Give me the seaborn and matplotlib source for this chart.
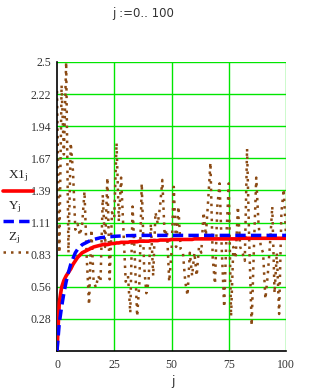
import matplotlib
matplotlib.use("Agg")
import matplotlib.pyplot as plt
import seaborn as sns
import numpy as np
import pandas as pd
from matplotlib.lines import Line2D

sns.set_theme(style="white")
plt.rcParams['font.family'] = ['Liberation Serif', 'DejaVu Serif']
plt.rcParams['mathtext.fontset'] = 'custom'
plt.rcParams['mathtext.rm'] = 'Liberation Serif'
plt.rcParams['mathtext.it'] = 'Liberation Serif'

j = list(range(101))

x1_vals = [0.00, 0.42, 0.55, 0.61, 0.65, 0.68, 0.71, 0.75, 0.78, 0.81,
           0.83, 0.85, 0.86, 0.87, 0.88, 0.89, 0.90, 0.905, 0.91, 0.915,
           0.92, 0.925, 0.92, 0.925, 0.93, 0.93, 0.935, 0.935, 0.94, 0.94,
           0.94, 0.94, 0.945, 0.945, 0.945, 0.945, 0.95, 0.95, 0.95, 0.95,
           0.95, 0.955, 0.955, 0.955, 0.955, 0.96, 0.96, 0.96, 0.96, 0.96,
           0.965, 0.965, 0.965, 0.965, 0.965, 0.965, 0.965, 0.965, 0.965, 0.965,
           0.97, 0.97, 0.97, 0.97, 0.97, 0.97, 0.97, 0.97, 0.97, 0.97,
           0.97, 0.97, 0.97, 0.97, 0.97, 0.97, 0.97, 0.97, 0.97, 0.97,
           0.975, 0.975, 0.975, 0.975, 0.975, 0.975, 0.975, 0.975, 0.975, 0.975,
           0.975, 0.975, 0.975, 0.975, 0.975, 0.975, 0.975, 0.975, 0.975, 0.975,
           0.975]

y_vals = [0.00, 0.24, 0.38, 0.50, 0.60, 0.68, 0.75, 0.80, 0.85, 0.88,
          0.90, 0.92, 0.93, 0.94, 0.95, 0.96, 0.965, 0.97, 0.975, 0.98,
          0.982, 0.985, 0.987, 0.989, 0.99, 0.992, 0.993, 0.994, 0.995, 0.996,
          0.997, 0.998, 0.998, 0.999, 0.999, 1.0, 1.0, 1.0, 1.0, 1.0,
          1.0, 1.0, 1.0, 1.0, 1.0, 1.0, 1.0, 1.0, 1.0, 1.0,
          1.0, 1.0, 1.0, 1.0, 1.0, 1.0, 1.0, 1.0, 1.0, 1.0,
          1.0, 1.0, 1.0, 1.0, 1.0, 1.0, 1.0, 1.0, 1.0, 1.0,
          1.0, 1.0, 1.0, 1.0, 1.0, 1.0, 1.0, 1.0, 1.0, 1.0,
          1.0, 1.0, 1.0, 1.0, 1.0, 1.0, 1.0, 1.0, 1.0, 1.0,
          1.0, 1.0, 1.0, 1.0, 1.0, 1.0, 1.0, 1.0, 1.0, 1.0,
          1.0]

z_vals = [2.25, 0.85, 2.30, 1.70, 2.50, 0.85, 1.80, 1.55, 1.05, 1.10,
          1.00, 1.10, 1.38, 0.80, 0.40, 1.05, 0.60, 0.55, 0.65, 0.60,
          1.35, 0.90, 1.50, 0.62, 1.20, 1.15, 1.80, 1.12, 1.50, 1.05,
          0.60, 0.65, 0.33, 1.25, 0.80, 0.30, 0.60, 1.45, 0.75, 0.50,
          0.60, 1.10, 0.65, 1.20, 1.10, 1.25, 1.48, 1.00, 1.05, 0.60,
          0.85, 1.42, 0.90, 1.25, 0.88, 0.85, 0.60, 0.48, 0.85, 0.65,
          0.85, 0.65, 0.90, 0.85, 1.20, 1.00, 1.30, 1.63, 0.80, 0.58,
          1.25, 1.45, 0.85, 0.38, 1.00, 1.45, 0.30, 0.90, 0.80, 1.25,
          0.90, 0.85, 0.78, 1.75, 0.90, 0.22, 0.90, 1.50, 1.10, 0.90,
          0.85, 0.45, 0.65, 0.92, 1.25, 0.50, 0.85, 0.32, 1.20, 1.40,
          1.00]

y_ticks = [0.28, 0.56, 0.83, 1.11, 1.39, 1.67, 1.94, 2.22, 2.5]
x_ticks = [0, 25, 50, 75, 100]

df = pd.DataFrame({"j": j, "X1": x1_vals, "Y": y_vals, "Z": z_vals})

fig = plt.figure(figsize=(3.23, 3.89), dpi=100)
ax = fig.add_axes([57/323, 1-351/389, (286-57)/323, (351-62)/389])

grid_c = "#00e600"
for yt in [k*2.5/9 for k in range(1, 10)]:
    ax.axhline(yt, color=grid_c, lw=1.0, zorder=0)
for xt in [25, 50, 75, 100]:
    ax.axvline(xt, color=grid_c, lw=1.0, zorder=0)

brown = "#8b4a14"
zdash = (0, (1, 2.0))
sns.lineplot(data=df, x="j", y="Z", ax=ax, color=brown, lw=1.8,
             linestyle=zdash, zorder=2)
sns.lineplot(data=df, x="j", y="X1", ax=ax, color="#ff0000", lw=2.6, zorder=3)
sns.lineplot(data=df, x="j", y="Y", ax=ax, color="#0000ff", lw=2.5,
             linestyle=(0, (3, 1.5)), zorder=4)

ax.set_xlim(0, 100)
ax.set_ylim(0, 2.5)
ax.set_yticks([k*2.5/9 for k in range(1, 10)])
ax.set_yticklabels([str(t) for t in y_ticks])
ax.set_xticks(x_ticks)
ax.set_xticklabels([str(t) for t in x_ticks])
ax.tick_params(axis='both', direction='inout', length=6, width=1, color='black',
               labelsize=8.5, labelcolor='#333333', pad=1)
ax.tick_params(axis='x', pad=3)
ax.set_xlabel("")
ax.set_ylabel("")
for s in ["top", "right"]:
    ax.spines[s].set_visible(False)
for s in ["left", "bottom"]:
    ax.spines[s].set_color("black")
    ax.spines[s].set_linewidth(1.2)
ax.patch.set_alpha(0)

# title and x label
fig.text(143/323, 1-13/389, "j :=0.. 100", ha="center", va="center",
         fontsize=8.5, color="#333333", family=['DejaVu Sans'])
fig.text(173/323, 1-382/389, "j", ha="center", va="center", fontsize=9,
         color="#333333", family=['DejaVu Sans'])

# legend in left margin
def fx(px):
    return px/323
def fy(py):
    return 1-py/389

fig.text(fx(8), fy(176), r"$\mathregular{X1_j}$", fontsize=9.5, color="#222222",
         va="center", ha="left")
fig.add_artist(Line2D([fx(3), fx(33)], [fy(191), fy(191)], color="#ff0000", lw=2.6))
fig.text(fx(8), fy(207), r"$\mathregular{Y_j}$", fontsize=9.5, color="#222222",
         va="center", ha="left")
fig.add_artist(Line2D([fx(3), fx(33)], [fy(221), fy(221)], color="#0000ff", lw=2.5,
                      linestyle=(0, (3, 1.5))))
fig.text(fx(8), fy(238), r"$\mathregular{Z_j}$", fontsize=9.5, color="#222222",
         va="center", ha="left")
fig.add_artist(Line2D([fx(3), fx(33)], [fy(252), fy(252)], color=brown, lw=1.8,
                      linestyle=zdash))

fig.savefig("out.png", dpi=100)
